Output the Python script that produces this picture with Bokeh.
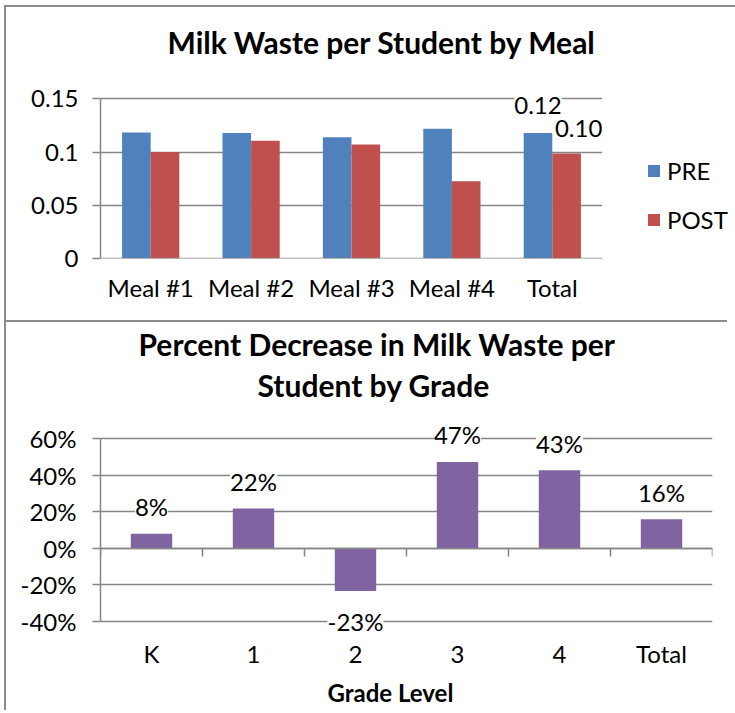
from bokeh.plotting import figure
from bokeh.models import (ColumnDataSource, FactorRange, Range1d, LinearAxis, FixedTicker,
                          CustomJSTickFormatter, NumeralTickFormatter, Legend, LegendItem,
                          LabelSet, Title)
from bokeh.transform import dodge
from bokeh.layouts import column
from bokeh.embed import file_html
from bokeh.resources import INLINE
from bokeh.core.properties import value
import numpy as np

# ---------------- data ----------------
meals = ["Meal #1", "Meal #2", "Meal #3", "Meal #4", "Total"]
pre = [0.1184, 0.1178, 0.1139, 0.1219, 0.1178]
post = [0.1000, 0.1105, 0.1070, 0.0725, 0.0987]
top_y_ticks = [0, 0.05, 0.1, 0.15]

grades = ["K", "1", "2", "3", "4", "Total"]
pct_decrease = [0.080, 0.218, -0.234, 0.473, 0.427, 0.159]
bottom_y_ticks = [-0.4, -0.2, 0, 0.2, 0.4, 0.6]

# ---------------- style ----------------
FONT = "Lato"
GRID = "#868686"
C_PRE = "#4F81BD"
C_POST = "#C0504D"
C_PURPLE = "#8064A2"
TICK_FS = "24px"
TITLE_FS = "30px"
BORDER = "2px solid #8c8c8c"


def make_labelset(**kw):
    try:
        return LabelSet(padding=7, **kw)
    except Exception:
        return LabelSet(**kw)


def style_common(p):
    p.xgrid.visible = False
    p.ygrid.grid_line_color = GRID
    p.ygrid.grid_line_width = 1.5
    p.outline_line_color = None
    p.yaxis.axis_line_color = GRID
    p.yaxis.axis_line_width = 1.5
    p.yaxis.major_tick_line_color = GRID
    p.yaxis.major_tick_line_width = 1.5
    p.yaxis.major_tick_out = 8
    p.yaxis.major_tick_in = 0
    p.yaxis.minor_tick_line_color = None
    p.yaxis.major_label_text_font = FONT
    p.yaxis.major_label_text_font_size = TICK_FS
    p.yaxis.major_label_text_color = "black"
    p.yaxis.major_label_standoff = 14
    p.xaxis.axis_line_color = None
    p.xaxis.major_tick_line_color = None
    p.xaxis.major_tick_out = 0
    p.xaxis.major_tick_in = 0
    p.xaxis.minor_tick_line_color = None
    p.xaxis.major_label_text_font = FONT
    p.xaxis.major_label_text_font_size = TICK_FS
    p.xaxis.major_label_text_color = "black"


def add_edge_axis(p, n):
    # category boundaries in the factor range's synthetic coordinates (0..n)
    ax = LinearAxis(ticker=FixedTicker(ticks=list(range(n + 1))),
                    fixed_location=0, axis_line_color=GRID, axis_line_width=1.5,
                    major_tick_line_color=GRID, major_tick_line_width=1.5,
                    major_tick_out=8, major_tick_in=0, minor_tick_line_color=None,
                    major_label_text_font_size="0px", major_label_standoff=0)
    p.add_layout(ax, "below")


def title(text, size, offset, standoff):
    return Title(text=text, align="left", offset=offset, text_font=FONT,
                 text_font_size=size, text_font_style="bold", text_color="black",
                 standoff=standoff)


# ================= top chart =================
# axis spans 0..0.15 over 158 px; the frame gets 25 px of headroom above it
px1 = 158 / (top_y_ticks[-1] - top_y_ticks[0])
p1 = figure(x_range=FactorRange(*meals),
            y_range=Range1d(top_y_ticks[0], top_y_ticks[-1] + 25 / px1),
            frame_width=500, frame_height=183, output_backend="svg", toolbar_location=None,
            min_border_left=86, min_border_right=135, min_border_top=66, min_border_bottom=64)
p1.margin = (5, 0, 0, 4)
p1.styles = {"border-top": BORDER, "border-left": BORDER}
style_common(p1)
p1.yaxis.ticker = FixedTicker(ticks=top_y_ticks)
p1.yaxis.bounds = (top_y_ticks[0], top_y_ticks[-1])
p1.yaxis.formatter = CustomJSTickFormatter(code="return tick.toString();")
p1.xaxis.major_label_standoff = 14

src1 = ColumnDataSource(dict(meal=meals, pre=pre, post=post))
r_pre = p1.vbar(x=dodge("meal", -0.1425, range=p1.x_range), top="pre", width=0.285,
                source=src1, fill_color=C_PRE, line_color=None)
r_post = p1.vbar(x=dodge("meal", 0.1425, range=p1.x_range), top="post", width=0.285,
                 source=src1, fill_color=C_POST, line_color=None)
add_edge_axis(p1, len(meals))

p1.add_layout(title("Milk Waste per Student by Meal", TITLE_FS, 67, 28), "above")

lab_src = ColumnDataSource(dict(meal=[meals[-1]], pre=[pre[-1]], post=[post[-1]],
                                pre_txt=[f"{pre[-1]:.2f}"], post_txt=[f"{post[-1]:.2f}"]))
p1.add_layout(make_labelset(x=dodge("meal", -0.1425, range=p1.x_range), y="pre", text="pre_txt",
                            source=lab_src, text_align="center", text_baseline="middle",
                            y_offset=28, text_font=value(FONT), text_font_size=value(TICK_FS),
                            text_color="black", background_fill_color="white"))
p1.add_layout(make_labelset(x=dodge("meal", 0.1425, range=p1.x_range), y="post", text="post_txt",
                            source=lab_src, text_align="center", text_baseline="middle",
                            x_offset=12, y_offset=25, text_font=value(FONT),
                            text_font_size=value(TICK_FS), text_color="black",
                            background_fill_color="white"))

legend = Legend(items=[LegendItem(label="PRE", renderers=[r_pre]),
                       LegendItem(label="POST", renderers=[r_post])],
                location=(44, 24), orientation="vertical",
                border_line_color=None, background_fill_alpha=0, padding=0, margin=0,
                spacing=20, glyph_width=15, glyph_height=15, label_standoff=6,
                label_height=24, label_text_font=FONT, label_text_font_size=TICK_FS,
                label_text_color="black")
p1.add_layout(legend, "right")

# ================= bottom chart =================
# axis spans -40%..60% over 181 px; frame gets 29 px above and 13 px below for labels
px2 = 181 / (bottom_y_ticks[-1] - bottom_y_ticks[0])
p2 = figure(x_range=FactorRange(*grades),
            y_range=Range1d(bottom_y_ticks[0] - 13 / px2, bottom_y_ticks[-1] + 29 / px2),
            frame_width=610, frame_height=223, output_backend="svg", toolbar_location=None,
            min_border_left=94, min_border_right=17, min_border_top=87, min_border_bottom=78)
p2.margin = (0, 0, 0, 4)
p2.styles = {"border-top": BORDER, "border-left": BORDER}
style_common(p2)
p2.yaxis.ticker = FixedTicker(ticks=bottom_y_ticks)
p2.yaxis.bounds = (bottom_y_ticks[0], bottom_y_ticks[-1])
p2.yaxis.formatter = NumeralTickFormatter(format="0%")
p2.yaxis.major_label_standoff = 16
p2.xaxis.major_label_standoff = 4

vals = np.array(pct_decrease)
src2 = ColumnDataSource(dict(grade=grades, val=pct_decrease,
                             txt=[f"{v:.0%}" for v in pct_decrease],
                             off=np.where(vals >= 0, 27, -30)))
p2.vbar(x="grade", top="val", bottom=0, width=0.406, source=src2,
        fill_color=C_PURPLE, line_color=None)
add_edge_axis(p2, len(grades))

p2.add_layout(title("Student by Grade", TITLE_FS, 157, 14), "above")
p2.add_layout(title("Percent Decrease in Milk Waste per", TITLE_FS, 38, -8), "above")
p2.add_layout(title("Grade Level", TICK_FS, 227, 11), "below")

p2.add_layout(make_labelset(x="grade", y="val", text="txt", source=src2,
                            text_align="center", text_baseline="middle", y_offset="off",
                            text_font=value(FONT), text_font_size=value(TICK_FS),
                            text_color="black", background_fill_color="white"))

layout = column(p1, p2, spacing=0)
open("out.html", "w").write(file_html(layout, INLINE))
